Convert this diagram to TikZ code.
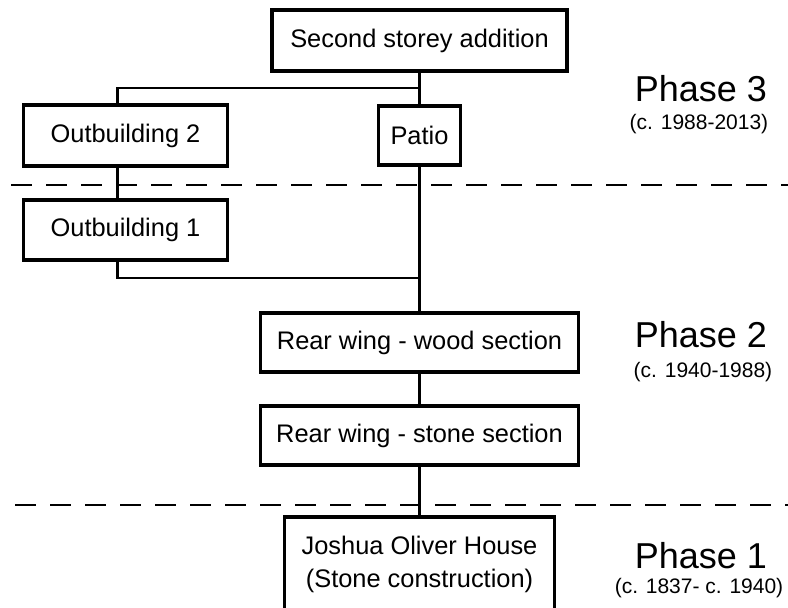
\documentclass[tikz,border=0pt]{standalone}
\usepackage{fontspec}
\setmainfont{Liberation Sans}
\usetikzlibrary{positioning}
\tikzset{
  bldg/.style    = {rectangle, draw, line width=1.7pt, inner sep=0pt,
                    outer sep=0pt, align=center,
                    font=\fontsize{12.7}{16.5}\selectfont},
  link/.style    = {line width=1.2pt},
  divider/.style = {line width=1.3pt, dash pattern=on 10.5pt off 7pt},
  phase/.style   = {font=\fontsize{18}{21}\selectfont},
  era/.style     = {font=\fontsize{10.5}{12}\selectfont},
}

\begin{document}
\begin{tikzpicture}[x=0.5pt, y=-0.5pt]
  \useasboundingbox (0,0) rectangle (788,607);
  \fill[white] (0,0) rectangle (788,607);

  \node[bldg, minimum width=147.5pt, minimum height=30.5pt] (sec) at (419.5,40.5) {Second storey addition};
  \node[bldg, minimum width=41pt, minimum height=29.5pt, below=17.5pt of sec] (patio) {Patio};
  \node[bldg, minimum width=102pt, minimum height=30.5pt, left=75.5pt of patio] (ob2) {Outbuilding 2};
  \node[bldg, minimum width=102pt, minimum height=30pt, below=17pt of ob2] (ob1) {Outbuilding 1};
  \node[bldg, minimum width=159pt, minimum height=29.5pt, below=74pt of patio] (wood) {Rear wing - wood section};
  \node[bldg, minimum width=159pt, minimum height=29.5pt, below=17pt of wood] (stone) {Rear wing - stone section};
  \node[bldg, minimum width=135pt, minimum height=47pt, below=26pt of stone] (house) {Joshua Oliver House\\(Stone construction)};

  \coordinate (j1) at (419.5,88);
  \coordinate (j2) at (419.5,278);

  \draw[link] (sec) -- (patio);
  \draw[link] (j1) -| ([xshift=-4pt]ob2.north);
  \draw[link] ([xshift=-4pt]ob2.south) -- ([xshift=-4pt]ob1.north);
  \draw[link] ([xshift=-4pt]ob1.south) |- (j2);
  \draw[link] (patio) -- (wood);
  \draw[link] (wood) -- (stone);
  \draw[link] (stone) -- (house);

  % phase boundaries
  \draw[divider] (11,185) -- (788,185);
  \draw[divider] (15,505) -- (788,505);

  \node[phase] (ph3) at (701,89) {Phase 3};
  \node[era] (ph3d) at (699,124) {(c. 1988-2013)};
  \node[phase] (ph2) at (701,335) {Phase 2};
  \node[era] (ph2d) at (703,372) {(c. 1940-1988)};
  \node[phase] (ph1) at (701,556) {Phase 1};
  \node[era] (ph1d) at (699,588) {(c. 1837- c. 1940)};
\end{tikzpicture}
\end{document}
